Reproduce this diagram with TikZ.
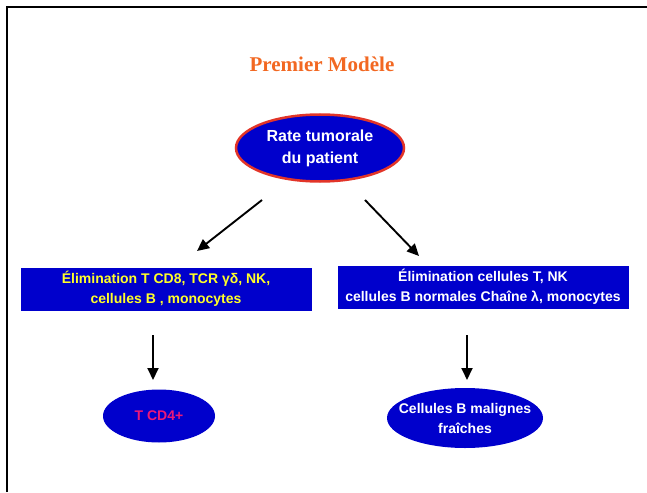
\documentclass[tikz,border=0pt]{standalone}
\usepackage{fontspec}
\setmainfont{Liberation Sans}
\newfontfamily\titrefont{Liberation Serif}
\usetikzlibrary{shapes.geometric,arrows.meta}
\definecolor{fondbleu}{RGB}{0,0,204}
\definecolor{bordrouge}{RGB}{226,52,40}
\definecolor{titreorange}{RGB}{242,104,34}
\definecolor{rosecd}{RGB}{236,24,120}
\definecolor{jaunetexte}{RGB}{255,255,40}
\tikzset{
  bulle/.style={ellipse,fill=fondbleu,inner sep=0pt,align=center,
    font=\bfseries\fontsize{14}{20}\selectfont},
  texte bulle/.style={align=center,inner sep=0pt,font=\bfseries\fontsize{14}{20}\selectfont},
  cadre/.style={rectangle,fill=fondbleu,minimum width=291pt,minimum height=43pt,
    inner sep=0pt,align=center,font=\bfseries\fontsize{14}{20}\selectfont},
  fleche/.style={line width=1.9pt,-{Triangle[length=12pt,width=11pt]}}
}
\begin{document}
\begin{tikzpicture}[x=1pt,y=-1pt]
\useasboundingbox (0,0) rectangle (647,492);
\draw[line width=2pt] (7,492) -- (7,7) -- (647,7);
\node[text=titreorange,font=\titrefont\bfseries\fontsize{21}{24}\selectfont] (titre) at (322,64) {Premier Modèle};
\node[bulle,draw=bordrouge,line width=2.5pt,minimum width=168pt,minimum height=67pt,
  text=white,font=\bfseries\fontsize{16}{22}\selectfont] (rate) at (320,148) {Rate tumorale\\du patient};
\node[cadre,text=jaunetexte] (elimg) at (166,289) {Élimination T CD8, TCR γδ, NK,\\cellules B , monocytes};
\node[cadre,text=white] (elimd) at (483,287) {Élimination cellules T, NK\\cellules B normales Chaîne λ, monocytes};
\node[bulle,minimum width=112pt,minimum height=53pt,text=rosecd] (cd4) at (159,416) {T CD4+};
\node[bulle,minimum width=156pt,minimum height=60pt,
  label={[texte bulle,text=white]center:Cellules B malignes\\fraîches}] (malin) at (465,418) {};
\coordinate (g1) at (262,200);
\coordinate (g2) at (197,251);
\coordinate (d1) at (365,200);
\coordinate (d2) at (419,256);
\coordinate (g3) at (153,335);
\coordinate (g4) at (153,380);
\coordinate (d3) at (467,335);
\coordinate (d4) at (467,380);
\draw[fleche] (g1)--(g2);
\draw[fleche] (d1)--(d2);
\draw[fleche] (g3)--(g4);
\draw[fleche] (d3)--(d4);
\end{tikzpicture}
\end{document}
